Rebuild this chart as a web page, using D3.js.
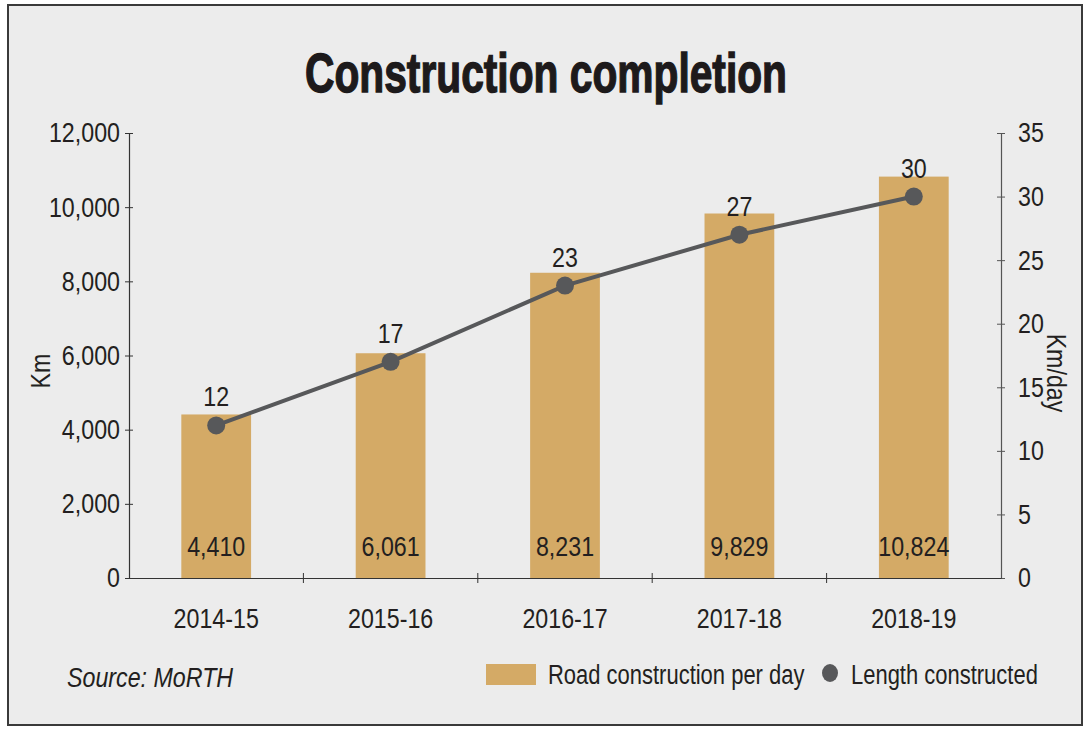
<!DOCTYPE html>
<html>
<head>
<meta charset="utf-8">
<script src="https://cdn.jsdelivr.net/npm/d3@7"></script>
<style>
  body { margin: 0; background: #fff; }
  text { font-family: "Liberation Sans", Arial, sans-serif; fill: #231f20; }
</style>
</head>
<body>
<svg id="chart"></svg>
<script>
// chart data
const years = ["2014-15", "2015-16", "2016-17", "2017-18", "2018-19"];
const kmPerYear = [4410, 6061, 8231, 9829, 10824];   // bars (left axis)
const kmPerDay = [12, 17, 23, 27, 30];               // line (right axis)
const leftTicks = [0, 2000, 4000, 6000, 8000, 10000, 12000];
const rightTicks = [0, 5, 10, 15, 20, 25, 30, 35];

const width = 1091;
const height = 731;
const barColor = "#d4aa66";
const lineColor = "#57585a";
const fontSize = 28;

let svg = d3.select("#chart")
    .attr("width", width)
    .attr("height", height);

// squeeze text horizontally (around its anchor point) to get a narrow face
function condense(sel, factor) {
    sel.each(function() {
        let t = d3.select(this);
        let tx = +t.attr("x") || 0;
        let ty = +t.attr("y") || 0;
        let base = t.attr("transform") || "";
        t.attr("transform", base + ` translate(${tx},${ty}) scale(${factor},1) translate(${-tx},${-ty})`);
    });
}

// background panel with frame
svg.append("rect")
    .attr("x", 8).attr("y", 5)
    .attr("width", 1074).attr("height", 720)
    .attr("fill", "#ececec")
    .attr("stroke", "#3a3a3a")
    .attr("stroke-width", 2);

// title
svg.append("text")
    .attr("class", "title")
    .attr("x", 546).attr("y", 92)
    .attr("text-anchor", "middle")
    .attr("font-size", 56)
    .attr("font-weight", "bold")
    .attr("textLength", 482)
    .attr("lengthAdjust", "spacingAndGlyphs")
    .style("fill", "#1d1a1b")
    .style("stroke", "#1d1a1b")
    .style("stroke-width", 1.4)
    .text("Construction completion");

// scales
let x = d3.scaleBand()
    .domain(years)
    .range([129, 1001])
    .paddingInner(0.6)
    .paddingOuter(0.3);

let yLeft = d3.scaleLinear()
    .domain([0, 12000])
    .range([578, 133]);

let yRight = d3.scaleLinear()
    .domain([0, 35])
    .range([578, 133]);

// bars
svg.selectAll("rect.bar")
    .data(kmPerYear)
    .enter().append("rect")
        .attr("class", "bar")
        .attr("x", (d, i) => x(years[i]))
        .attr("y", d => yLeft(d))
        .attr("width", x.bandwidth())
        .attr("height", d => yLeft(0) - yLeft(d))
        .attr("fill", barColor);

// bar value labels near the bottom of each bar
svg.selectAll("text.barlabel")
    .data(kmPerYear)
    .enter().append("text")
        .attr("class", "barlabel")
        .attr("x", (d, i) => x(years[i]) + x.bandwidth() / 2)
        .attr("y", yLeft(0) - 22)
        .attr("text-anchor", "middle")
        .attr("font-size", fontSize)
        .text(d => d3.format(",")(d));

// left axis
let leftAxis = svg.append("g")
    .attr("transform", "translate(129,0)")
    .call(d3.axisLeft(yLeft).tickValues(leftTicks).tickSize(0).tickPadding(9).tickFormat(d3.format(",")));
leftAxis.select(".domain").attr("stroke", "#333").attr("stroke-width", 1.2);
leftAxis.selectAll(".tick text").attr("font-size", fontSize);
leftAxis.selectAll(".tick").append("line")
    .attr("x1", -4).attr("x2", 4).attr("stroke", "#333");

// right axis
let rightAxis = svg.append("g")
    .attr("transform", "translate(1001,0)")
    .call(d3.axisRight(yRight).tickValues(rightTicks).tickSize(0).tickPadding(17));
rightAxis.select(".domain").attr("stroke", "#555").attr("stroke-width", 1.2);
rightAxis.selectAll(".tick text").attr("font-size", fontSize);
rightAxis.selectAll(".tick").append("line")
    .attr("x1", -4).attr("x2", 4).attr("stroke", "#555");

// bottom axis, labels centred in bands, ticks on band boundaries
let bottomAxis = svg.append("g")
    .attr("transform", "translate(0,578)")
    .call(d3.axisBottom(x).tickSize(0).tickPadding(30));
bottomAxis.select(".domain").attr("stroke", "#333").attr("stroke-width", 1.2);
bottomAxis.selectAll(".tick text").attr("font-size", fontSize);
let bounds = years.map(d => x(d) + x.bandwidth() / 2 - x.step() / 2);
bottomAxis.selectAll("line.bound")
    .data(bounds.slice(1))
    .enter().append("line")
        .attr("class", "bound")
        .attr("x1", d => d).attr("x2", d => d)
        .attr("y1", -5).attr("y2", 5)
        .attr("stroke", "#333");

// axis titles
svg.append("text")
    .attr("transform", "translate(50,371) rotate(-90)")
    .attr("text-anchor", "middle")
    .attr("font-size", fontSize)
    .text("Km");

svg.append("text")
    .attr("transform", "translate(1047,373) rotate(90)")
    .attr("text-anchor", "middle")
    .attr("font-size", fontSize)
    .text("Km/day");

// line for km per day
let line = d3.line()
    .x((d, i) => x(years[i]) + x.bandwidth() / 2)
    .y(d => yRight(d));

svg.append("path")
    .datum(kmPerDay)
    .attr("d", line)
    .attr("fill", "none")
    .attr("stroke", lineColor)
    .attr("stroke-width", 4);

svg.selectAll("circle.pt")
    .data(kmPerDay)
    .enter().append("circle")
        .attr("class", "pt")
        .attr("cx", (d, i) => x(years[i]) + x.bandwidth() / 2)
        .attr("cy", d => yRight(d))
        .attr("r", 9)
        .attr("fill", lineColor);

svg.selectAll("text.ptlabel")
    .data(kmPerDay)
    .enter().append("text")
        .attr("class", "ptlabel")
        .attr("x", (d, i) => x(years[i]) + x.bandwidth() / 2)
        .attr("y", d => yRight(d) - 19)
        .attr("text-anchor", "middle")
        .attr("font-size", fontSize)
        .text(d => d);

// source note
svg.append("text")
    .attr("x", 67).attr("y", 687)
    .attr("font-size", fontSize)
    .attr("font-style", "italic")
    .text("Source: MoRTH");

// legend
let legend = svg.append("g");
legend.append("rect")
    .attr("x", 486).attr("y", 664)
    .attr("width", 50).attr("height", 21)
    .attr("fill", barColor);
legend.append("text")
    .attr("class", "legend")
    .attr("x", 548).attr("y", 684)
    .attr("font-size", fontSize)
    .text("Road construction per day");
legend.append("ellipse")
    .attr("cx", 830).attr("cy", 673)
    .attr("rx", 8).attr("ry", 9)
    .attr("fill", lineColor);
legend.append("text")
    .attr("class", "legend")
    .attr("x", 851).attr("y", 684)
    .attr("font-size", fontSize)
    .text("Length constructed");

// narrow face for every label except the title
svg.selectAll("text:not(.title):not(.legend)").call(condense, 0.83);
svg.selectAll("text.legend").call(condense, 0.785);
</script>
</body>
</html>
